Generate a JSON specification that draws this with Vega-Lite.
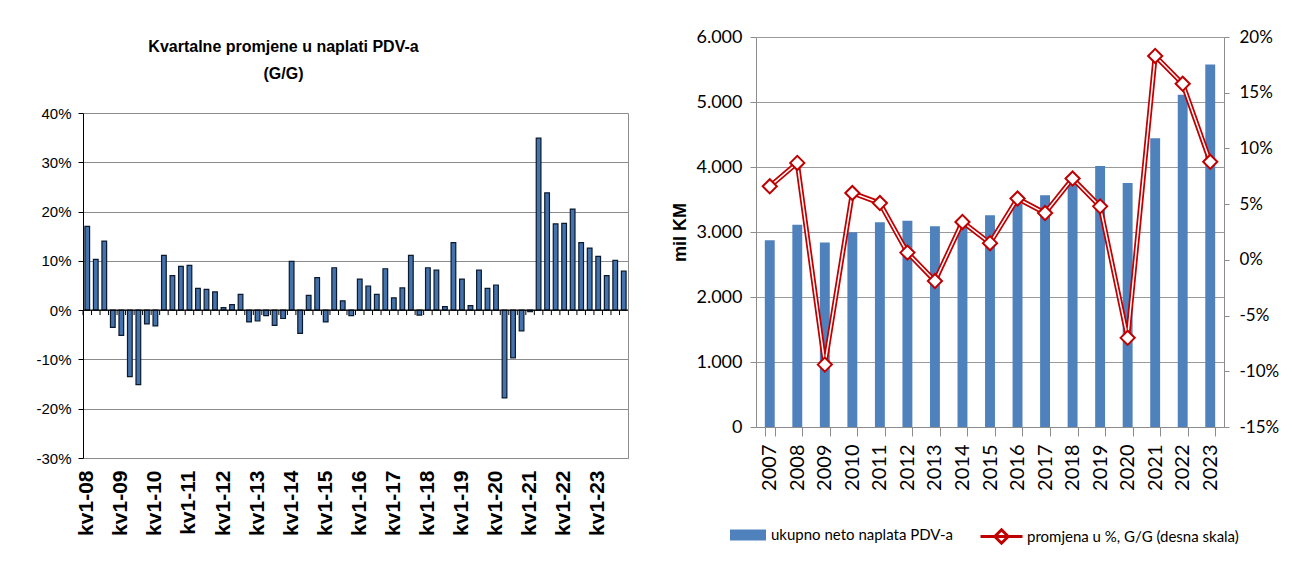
{
  "$schema": "https://vega.github.io/schema/vega-lite/v6.json",
  "padding": {"left": 35, "top": 28, "right": 5, "bottom": 5},
  "spacing": 42,
  "resolve": {"legend": {"fill": "independent", "stroke": "independent"}},
  "config": {
    "locale": {"number": {"decimal": ",", "thousands": ".", "grouping": [3], "currency": ["", ""], "minus": "-"}},
    "axis": {"labelColor": "#000", "titleColor": "#000", "gridColor": "#9a9a9a", "domainColor": "#8c8c8c", "tickColor": "#8c8c8c"},
    "view": {"stroke": null}
  },
  "hconcat": [
    {
      "width": 545,
      "height": 421,
      "title": {
        "text": ["Kvartalne promjene u naplati PDV-a", "(G/G)"],
        "font": "Liberation Sans",
        "fontSize": 16,
        "fontWeight": "bold",
        "color": "#000",
        "anchor": "middle",
        "dx": -72,
        "lineHeight": 27,
        "offset": -45
      },
      "data": {"values": [
        {"q": "kv1-08", "v": 0.170}, {"q": "kv2-08", "v": 0.103}, {"q": "kv3-08", "v": 0.140}, {"q": "kv4-08", "v": -0.035},
        {"q": "kv1-09", "v": -0.051}, {"q": "kv2-09", "v": -0.135}, {"q": "kv3-09", "v": -0.151}, {"q": "kv4-09", "v": -0.028},
        {"q": "kv1-10", "v": -0.032}, {"q": "kv2-10", "v": 0.111}, {"q": "kv3-10", "v": 0.070}, {"q": "kv4-10", "v": 0.089},
        {"q": "kv1-11", "v": 0.091}, {"q": "kv2-11", "v": 0.044}, {"q": "kv3-11", "v": 0.042}, {"q": "kv4-11", "v": 0.037},
        {"q": "kv1-12", "v": 0.005}, {"q": "kv2-12", "v": 0.011}, {"q": "kv3-12", "v": 0.032}, {"q": "kv4-12", "v": -0.024},
        {"q": "kv1-13", "v": -0.022}, {"q": "kv2-13", "v": -0.011}, {"q": "kv3-13", "v": -0.031}, {"q": "kv4-13", "v": -0.017},
        {"q": "kv1-14", "v": 0.099}, {"q": "kv2-14", "v": -0.047}, {"q": "kv3-14", "v": 0.030}, {"q": "kv4-14", "v": 0.066},
        {"q": "kv1-15", "v": -0.024}, {"q": "kv2-15", "v": 0.086}, {"q": "kv3-15", "v": 0.019}, {"q": "kv4-15", "v": -0.011},
        {"q": "kv1-16", "v": 0.063}, {"q": "kv2-16", "v": 0.049}, {"q": "kv3-16", "v": 0.032}, {"q": "kv4-16", "v": 0.084},
        {"q": "kv1-17", "v": 0.025}, {"q": "kv2-17", "v": 0.045}, {"q": "kv3-17", "v": 0.111}, {"q": "kv4-17", "v": -0.010},
        {"q": "kv1-18", "v": 0.086}, {"q": "kv2-18", "v": 0.081}, {"q": "kv3-18", "v": 0.007}, {"q": "kv4-18", "v": 0.137},
        {"q": "kv1-19", "v": 0.063}, {"q": "kv2-19", "v": 0.009}, {"q": "kv3-19", "v": 0.081}, {"q": "kv4-19", "v": 0.044},
        {"q": "kv1-20", "v": 0.051}, {"q": "kv2-20", "v": -0.178}, {"q": "kv3-20", "v": -0.097}, {"q": "kv4-20", "v": -0.042},
        {"q": "kv1-21", "v": -0.003}, {"q": "kv2-21", "v": 0.349}, {"q": "kv3-21", "v": 0.238}, {"q": "kv4-21", "v": 0.175},
        {"q": "kv1-22", "v": 0.176}, {"q": "kv2-22", "v": 0.205}, {"q": "kv3-22", "v": 0.137}, {"q": "kv4-22", "v": 0.126},
        {"q": "kv1-23", "v": 0.109}, {"q": "kv2-23", "v": 0.070}, {"q": "kv3-23", "v": 0.101}, {"q": "kv4-23", "v": 0.079}
      ]},
      "layer": [
        {
          "mark": {"type": "bar", "fill": "#4372ad", "stroke": "#0b1a2e", "strokeWidth": 1.2},
          "encoding": {
            "x": {
              "field": "q", "type": "nominal", "sort": null,
              "scale": {"paddingInner": 0.45, "paddingOuter": 0.225},
              "axis": {
                "values": ["kv1-08", "kv1-09", "kv1-10", "kv1-11", "kv1-12", "kv1-13", "kv1-14", "kv1-15", "kv1-16", "kv1-17", "kv1-18", "kv1-19", "kv1-20", "kv1-21", "kv1-22", "kv1-23"],
                "labelAngle": -90, "labelFont": "Liberation Sans", "labelFontSize": 21, "labelFontWeight": "bold",
                "ticks": false, "tickSize": 0, "domain": true, "domainColor": "#8c8c8c", "labelPadding": 12, "title": null, "labelOverlap": false
              }
            },
            "y": {
              "field": "v", "type": "quantitative",
              "scale": {"domain": [-0.3, 0.4], "nice": false, "range": [421, 76]},
              "axis": {
                "values": [-0.3, -0.2, -0.1, 0, 0.1, 0.2, 0.3, 0.4], "format": ".0%",
                "grid": true, "gridColor": "#8c8c8c", "domainColor": "#000", "tickColor": "#000", "tickSize": 5,
                "labelFont": "Liberation Sans", "labelFontSize": 15, "labelPadding": 7, "title": null
              }
            }
          }
        },
        {
          "mark": {"type": "rule", "color": "#000", "strokeWidth": 1},
          "encoding": {
            "x": {"field": "q", "type": "nominal", "sort": null, "bandPosition": -0.409},
            "y": {
              "datum": 0,
              "axis": {"orient": "right", "labels": false, "ticks": false, "grid": false, "domain": true, "domainColor": "#8c8c8c", "title": null}
            },
            "y2": {"datum": -0.01}
          }
        },
        {
          "data": {"values": [{}]},
          "mark": {"type": "rule", "color": "#000", "strokeWidth": 1.2},
          "encoding": {"y": {"datum": 0, "axis": null}}
        }
      ],
      "resolve": {"axis": {"y": "independent"}}
    },
    {
      "width": 468,
      "height": 390,
      "data": {"values": [
        {"year": "2007", "naplata": 2873, "promjena": 0.066},
        {"year": "2008", "naplata": 3110, "promjena": 0.087},
        {"year": "2009", "naplata": 2837, "promjena": -0.094},
        {"year": "2010", "naplata": 2995, "promjena": 0.060},
        {"year": "2011", "naplata": 3150, "promjena": 0.051},
        {"year": "2012", "naplata": 3172, "promjena": 0.0065},
        {"year": "2013", "naplata": 3090, "promjena": -0.019},
        {"year": "2014", "naplata": 3195, "promjena": 0.034},
        {"year": "2015", "naplata": 3257, "promjena": 0.015},
        {"year": "2016", "naplata": 3440, "promjena": 0.055},
        {"year": "2017", "naplata": 3564, "promjena": 0.042},
        {"year": "2018", "naplata": 3790, "promjena": 0.073},
        {"year": "2019", "naplata": 4014, "promjena": 0.048},
        {"year": "2020", "naplata": 3753, "promjena": -0.070},
        {"year": "2021", "naplata": 4444, "promjena": 0.183},
        {"year": "2022", "naplata": 5110, "promjena": 0.158},
        {"year": "2023", "naplata": 5576, "promjena": 0.088}
      ]},
      "encoding": {
        "x": {
          "field": "year", "type": "nominal", "sort": null,
          "scale": {"paddingInner": 0.64, "paddingOuter": 0.32},
          "axis": {
            "labelAngle": -90, "labelFont": "Lato", "labelFontSize": 20, "tickBand": "extent",
            "tickSize": 9, "labelPadding": 8, "title": null
          }
        }
      },
      "layer": [
        {
          "mark": {"type": "bar"},
          "encoding": {
            "y": {
              "field": "naplata", "type": "quantitative",
              "scale": {"domain": [0, 6000], "nice": false},
              "axis": {
                "values": [0, 1000, 2000, 3000, 4000, 5000, 6000], "format": ",d", "grid": true,
                "labelFont": "Lato", "labelFontSize": 18, "tickSize": 6, "labelPadding": 8,
                "title": "mil KM", "titleFont": "Liberation Sans", "titleFontSize": 18, "titleFontWeight": "bold", "titlePadding": 6
              }
            },
            "fill": {
              "datum": "ukupno neto naplata PDV-a", "type": "nominal",
              "scale": {"range": ["#4f81bd"]},
              "legend": {
                "title": null, "orient": "none", "legendX": -19, "legendY": 487,
                "symbolType": "M-1.636,-0.5H1.636V0.5H-1.636Z", "symbolSize": 484, "symbolStrokeWidth": 0,
                "labelFont": "Lato", "labelFontSize": 15, "labelColor": "#000", "labelOffset": 12, "labelLimit": 0
              }
            }
          }
        },
        {
          "encoding": {
            "y": {
              "field": "promjena", "type": "quantitative",
              "scale": {"domain": [-0.15, 0.2], "nice": false},
              "axis": {
                "orient": "right", "values": [-0.15, -0.1, -0.05, 0, 0.05, 0.1, 0.15, 0.2], "format": ".0%",
                "grid": false, "labelFont": "Lato", "labelFontSize": 17, "tickSize": 5, "labelPadding": 10, "title": null
              }
            }
          },
          "layer": [
            {
              "mark": {"type": "line", "strokeWidth": 5},
              "encoding": {
                "stroke": {
                  "datum": "promjena u %, G/G (desna skala)", "type": "nominal",
                  "scale": {"range": ["#c00000"]},
                  "legend": {
                    "title": null, "orient": "none", "legendX": 223, "legendY": 477,
                    "symbolType": "M-1,0H1M0,-0.32L0.32,0L0,0.32L-0.32,0Z", "symbolSize": 1764,
                    "symbolStrokeWidth": 3, "symbolFillColor": "white",
                    "labelFont": "Lato", "labelFontSize": 15, "labelColor": "#000", "labelOffset": 3, "labelLimit": 0
                  }
                }
              }
            },
            {
              "mark": {"type": "line", "stroke": "white", "strokeWidth": 1.5}
            },
            {
              "mark": {"type": "point", "shape": "diamond", "size": 200, "filled": true, "fill": "white", "stroke": "#c00000", "strokeWidth": 2, "opacity": 1}
            }
          ]
        }
      ],
      "resolve": {"scale": {"y": "independent"}}
    }
  ]
}
